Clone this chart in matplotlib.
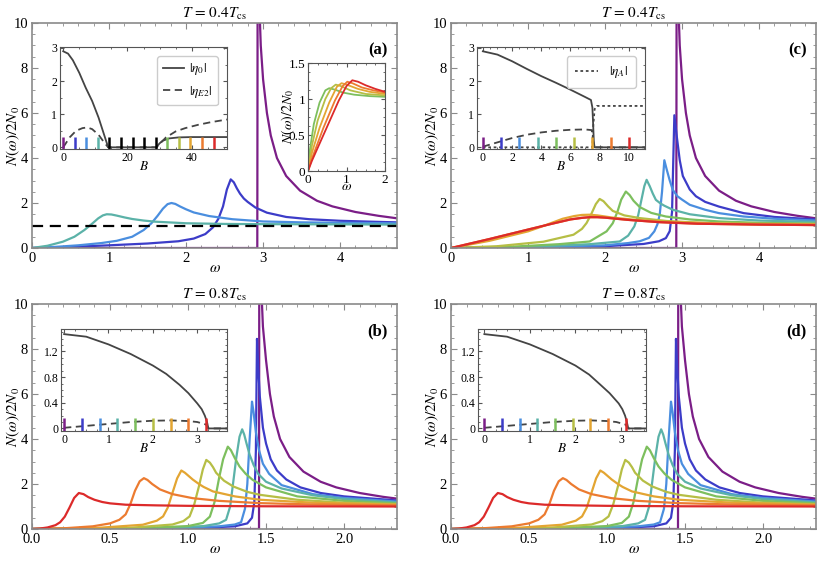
import numpy as np
import matplotlib.pyplot as plt
from matplotlib.ticker import MultipleLocator, FormatStrFormatter

plt.rcParams['font.family'] = ['Liberation Serif', 'DejaVu Serif']
plt.rcParams['mathtext.fontset'] = 'stix'
plt.rcParams['xtick.direction'] = 'in'
plt.rcParams['ytick.direction'] = 'in'
plt.rcParams['xtick.top'] = True
plt.rcParams['ytick.right'] = True

# rainbow colours used for the field values (low B -> high B)
rainbow = ['#7B1E87', '#3C3CC8', '#4A8EDF', '#5BB2A8', '#7DBF5E',
           '#B6BE45', '#E3A532', '#EC7B30', '#DC2A2A']

# ---------------- panel (a): T = 0.4 Tcs, main curves (purple, blue, light blue, teal)
a_omega = [
    [0, 2.925, 2.93, 2.95, 2.97, 3.0, 3.05, 3.1, 3.18, 3.3, 3.48, 3.7, 3.9, 4.2, 4.5, 4.74],
    [0, 0.5, 1.0, 1.5, 1.9, 2.1, 2.25, 2.35, 2.42, 2.48, 2.53, 2.58, 2.62, 2.66, 2.7, 2.75, 2.8, 2.9, 3.05, 3.3, 3.6, 4.0, 4.4, 4.74],
    [0, 0.3, 0.6, 0.9, 1.1, 1.3, 1.45, 1.55, 1.63, 1.7, 1.76, 1.81, 1.86, 1.92, 2.0, 2.1, 2.3, 2.6, 3.0, 3.5, 4.0, 4.74],
    [0, 0.2, 0.4, 0.55, 0.68, 0.78, 0.86, 0.92, 0.97, 1.03, 1.1, 1.2, 1.3, 1.45, 1.6, 2.0, 2.5, 3.0, 4.0, 4.74],
]
a_dos = [
    [0, 0, 14, 11, 9.0, 7.5, 6.0, 5.0, 4.0, 3.2, 2.55, 2.1, 1.85, 1.6, 1.43, 1.32],
    [0, 0.05, 0.12, 0.2, 0.3, 0.42, 0.62, 0.92, 1.3, 1.85, 2.6, 3.05, 2.92, 2.65, 2.42, 2.2, 2.05, 1.8, 1.57, 1.38, 1.28, 1.21, 1.17, 1.14],
    [0, 0.05, 0.12, 0.22, 0.32, 0.5, 0.8, 1.1, 1.43, 1.75, 1.95, 2.0, 1.96, 1.85, 1.72, 1.58, 1.42, 1.28, 1.18, 1.14, 1.12, 1.1],
    [0, 0.1, 0.28, 0.5, 0.8, 1.08, 1.32, 1.45, 1.5, 1.49, 1.44, 1.36, 1.29, 1.22, 1.17, 1.1, 1.07, 1.06, 1.05, 1.04],
]
a_normal = 1.0

# panel (a) right inset: high-field curves (green ... red)
a2_omega = [
    [0, 0.05, 0.15, 0.3, 0.45, 0.55, 0.7, 0.9, 1.2, 1.6, 2.0],
    [0, 0.1, 0.25, 0.45, 0.6, 0.72, 0.85, 1.1, 1.5, 2.0],
    [0, 0.1, 0.3, 0.55, 0.75, 0.87, 1.0, 1.3, 1.6, 2.0],
    [0, 0.1, 0.4, 0.7, 0.9, 1.02, 1.15, 1.4, 1.7, 2.0],
    [0, 0.1, 0.4, 0.8, 1.0, 1.15, 1.3, 1.5, 1.75, 2.0],
]
a2_dos = [
    [0, 0.3, 0.65, 0.95, 1.12, 1.15, 1.13, 1.09, 1.06, 1.04, 1.03],
    [0, 0.35, 0.7, 1.0, 1.15, 1.2, 1.18, 1.12, 1.07, 1.05],
    [0, 0.25, 0.6, 0.95, 1.17, 1.22, 1.2, 1.14, 1.1, 1.07],
    [0, 0.17, 0.6, 0.98, 1.18, 1.24, 1.22, 1.16, 1.12, 1.09],
    [0, 0.14, 0.5, 0.98, 1.18, 1.26, 1.24, 1.19, 1.14, 1.1],
]

# panel (a) left inset: order parameters vs B
a_B0 = [0, 1.5, 3, 5, 7, 9, 11, 12.5, 14.0, 29, 30, 31, 33, 36, 40, 45, 51]
a_eta0 = [2.9, 2.83, 2.63, 2.25, 1.8, 1.4, 0.9, 0.45, 0, 0, 0.12, 0.2, 0.27, 0.3, 0.31, 0.31, 0.31]
a_BE2 = [0, 2, 4, 6, 7.5, 9, 11, 12.5, 14.0, 29, 30, 32, 35, 38, 42, 46, 51]
a_etaE2 = [0, 0.3, 0.5, 0.58, 0.6, 0.55, 0.38, 0.18, 0, 0, 0.1, 0.3, 0.48, 0.58, 0.68, 0.76, 0.84]
a_Bmarks = [0, 3.6, 7.2, 10.8, 14.4, 18, 21.6, 25.2, 28.8, 32.4, 36, 39.6, 43.2, 46.8]
a_markcolors = rainbow[:4] + ['k'] * 5 + rainbow[4:]

# ---------------- panel (c): T = 0.4 Tcs with eta_A
c_omega = [
    a_omega[0],
    [0, 1, 2, 2.5, 2.7, 2.79, 2.84, 2.87, 2.9, 2.93, 2.97, 3.01, 3.1, 3.18, 3.3, 3.48, 3.8, 4.2, 4.74],
    [0, 1, 2, 2.3, 2.45, 2.57, 2.64, 2.68, 2.71, 2.74, 2.77, 2.8, 2.84, 2.88, 2.94, 3.0, 3.1, 3.3, 3.48, 3.8, 4.2, 4.74],
    [0, 1, 1.8, 2.19, 2.3, 2.38, 2.43, 2.47, 2.51, 2.54, 2.58, 2.62, 2.66, 2.72, 2.77, 2.88, 3.1, 3.48, 4.0, 4.74],
    [0, 0.8, 1.4, 1.8, 2.02, 2.1, 2.16, 2.21, 2.27, 2.32, 2.37, 2.45, 2.6, 2.79, 3.1, 3.48, 4.0, 4.74],
    [0, 0.6, 1.2, 1.59, 1.7, 1.76, 1.82, 1.88, 1.93, 1.98, 2.04, 2.1, 2.25, 2.45, 2.8, 3.48, 4.0, 4.74],
    [0, 0.5, 1.0, 1.2, 1.45, 1.6, 1.7, 1.8, 1.9, 2.1, 2.4, 2.8, 3.5, 4.74],
    [0, 0.5, 1.0, 1.3, 1.55, 1.7, 1.8, 1.9, 2.0, 2.3, 2.7, 3.2, 4.0, 4.74],
    [0, 0.5, 1.0, 1.3, 1.55, 1.7, 1.8, 1.9, 2.0, 2.3, 2.7, 3.2, 4.0, 4.74],
]
c_dos = [
    a_dos[0],
    [0, 0.02, 0.08, 0.18, 0.3, 0.44, 0.75, 1.6, 5.9, 5.0, 3.9, 3.2, 2.6, 2.3, 2.05, 1.84, 1.55, 1.38, 1.27],
    [0, 0.03, 0.12, 0.22, 0.3, 0.45, 0.74, 1.05, 1.48, 2.5, 3.9, 3.5, 3.0, 2.58, 2.3, 2.15, 1.92, 1.7, 1.55, 1.4, 1.3, 1.22],
    [0, 0.05, 0.17, 0.29, 0.55, 0.96, 1.45, 2.1, 2.75, 3.03, 2.75, 2.42, 2.14, 1.98, 1.88, 1.7, 1.5, 1.33, 1.22, 1.16],
    [0, 0.06, 0.17, 0.29, 0.74, 1.1, 1.6, 2.15, 2.51, 2.35, 2.1, 1.82, 1.56, 1.4, 1.27, 1.18, 1.12, 1.09],
    [0, 0.08, 0.28, 0.59, 0.85, 1.11, 1.5, 1.95, 2.18, 2.08, 1.85, 1.65, 1.45, 1.33, 1.2, 1.08, 1.06, 1.05],
    [0, 0.32, 0.74, 0.98, 1.3, 1.42, 1.47, 1.48, 1.45, 1.35, 1.25, 1.16, 1.09, 1.05],
    [0, 0.4, 0.82, 1.07, 1.27, 1.34, 1.37, 1.37, 1.35, 1.25, 1.15, 1.08, 1.04, 1.02],
    [0, 0.4, 0.82, 1.07, 1.27, 1.34, 1.37, 1.37, 1.35, 1.25, 1.15, 1.08, 1.04, 1.02],
]
c_B0 = [0, 1, 2, 3, 4, 5, 6, 7, 7.4, 7.5, 7.55, 7.6, 7.65, 11.2]
c_eta0 = [2.9, 2.8, 2.6, 2.37, 2.15, 1.95, 1.74, 1.52, 1.43, 1.2, 0.7, 0.15, 0, 0]
c_BE2 = [0, 1, 2, 3, 4, 5, 6, 7, 7.45, 7.55, 7.65, 11.2]
c_etaE2 = [0.02, 0.15, 0.28, 0.38, 0.45, 0.5, 0.53, 0.54, 0.52, 0.2, 0, 0]
c_BA = [0, 7.5, 7.55, 7.65, 7.8, 11.2]
c_etaA = [0, 0, 0.6, 1.15, 1.25, 1.25]
c_Bmarks = [0, 1.25, 2.5, 3.75, 5, 6.25, 7.5, 8.75, 10]

# ---------------- panels (b), (d): T = 0.8 Tcs
b_omega = [
    [0, 1.455, 1.457, 1.468, 1.48, 1.5, 1.525, 1.55, 1.59, 1.65, 1.74, 1.85, 1.95, 2.1, 2.25, 2.34],
    [0, 1.0, 1.3, 1.38, 1.41, 1.425, 1.435, 1.442, 1.45, 1.46, 1.48, 1.5, 1.53, 1.57, 1.63, 1.72, 1.85, 2.0, 2.34],
    [0, 0.9, 1.2, 1.3, 1.34, 1.365, 1.38, 1.395, 1.41, 1.42, 1.435, 1.455, 1.48, 1.52, 1.6, 1.8, 2.0, 2.34],
    [0, 0.8, 1.1, 1.2, 1.244, 1.27, 1.29, 1.31, 1.33, 1.347, 1.36, 1.375, 1.395, 1.42, 1.45, 1.5, 1.6, 1.8, 2.0, 2.34],
    [0, 0.7, 1.0, 1.095, 1.14, 1.17, 1.2, 1.225, 1.255, 1.275, 1.3, 1.33, 1.37, 1.415, 1.5, 1.7, 2.0, 2.34],
    [0, 0.6, 0.9, 0.97, 1.01, 1.04, 1.07, 1.095, 1.117, 1.14, 1.16, 1.18, 1.23, 1.29, 1.38, 1.46, 1.7, 2.0, 2.34],
    [0, 0.4, 0.71, 0.8, 0.84, 0.87, 0.9, 0.93, 0.957, 0.98, 1.0, 1.03, 1.07, 1.1, 1.16, 1.3, 1.46, 1.8, 2.34],
    [0, 0.2, 0.39, 0.5, 0.56, 0.6, 0.63, 0.66, 0.69, 0.717, 0.74, 0.77, 0.82, 0.9, 1.03, 1.2, 1.46, 1.8, 2.34],
    [0, 0.05, 0.1, 0.15, 0.18, 0.21, 0.24, 0.27, 0.3, 0.33, 0.36, 0.4, 0.45, 0.5, 0.6, 0.8, 1.0, 1.5, 2.34],
]
b_dos = [
    [0, 0, 14, 11, 9.0, 7.5, 6.0, 5.0, 4.0, 3.2, 2.55, 2.1, 1.85, 1.6, 1.43, 1.35],
    [0, 0.03, 0.12, 0.25, 0.5, 1.2, 3.5, 8.45, 7.2, 5.9, 4.5, 3.8, 3.1, 2.6, 2.2, 1.85, 1.6, 1.45, 1.27],
    [0, 0.04, 0.12, 0.2, 0.3, 0.9, 2.0, 4.0, 5.66, 5.2, 4.3, 3.5, 2.9, 2.45, 1.95, 1.55, 1.38, 1.22],
    [0, 0.04, 0.13, 0.25, 0.41, 1.0, 2.1, 3.2, 4.1, 4.43, 4.2, 3.8, 3.3, 2.85, 2.45, 2.1, 1.8, 1.5, 1.33, 1.18],
    [0, 0.04, 0.13, 0.27, 0.55, 1.2, 2.3, 3.1, 3.66, 3.5, 3.15, 2.78, 2.45, 2.18, 1.85, 1.45, 1.25, 1.14],
    [0, 0.04, 0.2, 0.35, 0.56, 1.1, 1.9, 2.65, 3.07, 2.95, 2.75, 2.5, 2.15, 1.89, 1.65, 1.52, 1.3, 1.17, 1.1],
    [0, 0.04, 0.19, 0.37, 0.56, 0.95, 1.6, 2.25, 2.6, 2.5, 2.38, 2.2, 2.0, 1.87, 1.67, 1.45, 1.3, 1.17, 1.08],
    [0, 0.03, 0.12, 0.25, 0.41, 0.65, 1.1, 1.7, 2.12, 2.26, 2.18, 2.0, 1.76, 1.55, 1.37, 1.25, 1.15, 1.09, 1.05],
    [0, 0.02, 0.07, 0.17, 0.3, 0.55, 0.95, 1.38, 1.6, 1.55, 1.42, 1.3, 1.2, 1.14, 1.08, 1.05, 1.03, 1.01, 1.0],
]
b_B0 = [0, 0.5, 1.0, 1.5, 2.0, 2.3, 2.6, 2.8, 3.0, 3.1, 3.17, 3.22, 3.25, 3.7]
b_eta0 = [1.47, 1.43, 1.31, 1.16, 0.98, 0.85, 0.68, 0.55, 0.39, 0.3, 0.2, 0.1, 0, 0]
b_BE2 = [0, 0.5, 1.0, 1.5, 2.0, 2.4, 2.8, 3.0, 3.2, 3.25, 3.7]
b_etaE2 = [0.01, 0.04, 0.07, 0.1, 0.12, 0.125, 0.115, 0.1, 0.06, 0, 0]
b_Bmarks = [0, 0.4, 0.8, 1.2, 1.6, 2.0, 2.4, 2.8, 3.2]

d_B0 = [0, 0.5, 1.0, 1.5, 2.0, 2.3, 2.55, 2.75, 2.95, 3.03, 3.09, 3.13, 3.16, 3.6]
d_eta0 = [1.47, 1.43, 1.31, 1.16, 0.98, 0.84, 0.68, 0.55, 0.39, 0.3, 0.2, 0.1, 0, 0]
d_BE2 = [0, 0.5, 1.0, 1.5, 2.0, 2.35, 2.7, 2.9, 3.1, 3.16, 3.6]
d_etaE2 = [0.01, 0.04, 0.07, 0.1, 0.12, 0.125, 0.115, 0.1, 0.06, 0, 0]
d_Bmarks = [0, 0.39, 0.78, 1.16, 1.55, 1.94, 2.33, 2.71, 3.1]

FRAME = '#8a8a8a'
IFRAME = '#555555'
GRAY = '#444444'


def style_main(ax, xmax, xmaj, xmin_step, label):
    ax.set_xlim(0, xmax)
    ax.set_ylim(0, 10)
    ax.xaxis.set_major_locator(MultipleLocator(xmaj))
    ax.xaxis.set_minor_locator(MultipleLocator(xmin_step))
    ax.yaxis.set_major_locator(MultipleLocator(2))
    ax.yaxis.set_minor_locator(MultipleLocator(0.5))
    for s in ax.spines.values():
        s.set_color(FRAME)
        s.set_linewidth(1.2)
    ax.tick_params(which='both', color=FRAME, labelsize=10.5, pad=3)
    ax.tick_params(which='major', length=4)
    ax.tick_params(which='minor', length=2)
    ax.set_xlabel(r'$\omega$', fontsize=11, labelpad=-2)
    ax.set_ylabel(r'$N(\omega)/2N_0$', fontsize=11)
    ax.yaxis.set_label_coords(-0.028, 0.5)
    ax.text(0.975, 0.88, label, transform=ax.transAxes, ha='right', va='center',
            fontsize=12, fontweight='bold')


def style_inset(ax):
    for s in ax.spines.values():
        s.set_color(IFRAME)
        s.set_linewidth(0.8)
    ax.tick_params(which='both', color=IFRAME, labelsize=8.5, pad=2)
    ax.tick_params(which='major', length=3)
    ax.tick_params(which='minor', length=1.5)


def marks(ax, Bs, cols, top, bottom):
    for B, col in zip(Bs, cols):
        ax.plot([B, B], [bottom, top], color=col, lw=1.8, solid_capstyle='butt')


fig = plt.figure(figsize=(8.3, 5.62), dpi=100)

L, W = 0.0386, 0.4398
L2 = 0.5434
H = 0.4004
ax_a = fig.add_axes([L, 0.5587, W, H])
ax_c = fig.add_axes([L2, 0.5587, W, H])
ax_b = fig.add_axes([L, 0.0587, W, H])
ax_d = fig.add_axes([L2, 0.0587, W, H])

# ----- (a)
for w, n, col in zip(a_omega, a_dos, rainbow[:4]):
    ax_a.plot(w, n, color=col, lw=1.6)
ax_a.axhline(a_normal, color='k', lw=1.6, dashes=(5, 3))
style_main(ax_a, 4.74, 1, 0.2, '(a)')
ax_a.set_title(r'$T\, =\, 0.4T_{\rm cs}$', fontsize=11, pad=4)

ia = fig.add_axes([0.0723, 0.7349, 0.2012, 0.1815])
ia.plot(a_B0, a_eta0, color=GRAY, lw=1.3, label=r'$|\eta_0|$')
ia.plot(a_BE2, a_etaE2, color=GRAY, lw=1.3, dashes=(4, 2.5), label=r'$|\eta_{E2}|$')
marks(ia, a_Bmarks, a_markcolors, 0.32, -0.05)
ia.set_xlim(-1, 51)
ia.set_ylim(-0.05, 3.03)
ia.xaxis.set_major_locator(MultipleLocator(20))
ia.xaxis.set_minor_locator(MultipleLocator(5))
ia.yaxis.set_major_locator(MultipleLocator(1))
ia.yaxis.set_minor_locator(MultipleLocator(0.5))
style_inset(ia)
ia.set_xlabel(r'$B$', fontsize=9.5, labelpad=-3)
ia.legend(loc='upper right', fontsize=9.5, handlelength=1.6, borderaxespad=0.7,
          fancybox=True, framealpha=1, edgecolor='#cccccc', labelspacing=0.5,
          handletextpad=0.4)

ia2 = fig.add_axes([0.3711, 0.6957, 0.0928, 0.1922])
for w, n, col in zip(a2_omega, a2_dos, rainbow[4:]):
    ia2.plot(w, n, color=col, lw=1.3)
ia2.set_xlim(0, 2)
ia2.set_ylim(0, 1.5)
ia2.xaxis.set_major_locator(MultipleLocator(1))
ia2.xaxis.set_minor_locator(MultipleLocator(0.25))
ia2.yaxis.set_major_locator(MultipleLocator(0.5))
ia2.yaxis.set_minor_locator(MultipleLocator(0.125))
ia2.yaxis.set_major_formatter(FormatStrFormatter('%g'))
style_inset(ia2)
ia2.tick_params(labelsize=9.5)
ia2.set_xlabel(r'$\omega$', fontsize=10, labelpad=-4)
ia2.set_ylabel(r'$N(\omega)/2N_0$', fontsize=10, labelpad=-6)

# ----- (c)
for w, n, col in zip(c_omega, c_dos, rainbow):
    ax_c.plot(w, n, color=col, lw=1.6)
style_main(ax_c, 4.74, 1, 0.2, '(c)')
ax_c.set_title(r'$T\, =\, 0.4T_{\rm cs}$', fontsize=11, pad=4)

ic = fig.add_axes([0.5747, 0.7349, 0.2024, 0.1815])
ic.plot(c_B0, c_eta0, color=GRAY, lw=1.3)
ic.plot(c_BE2, c_etaE2, color=GRAY, lw=1.3, dashes=(4, 2.5))
ic.plot(c_BA, c_etaA, color=GRAY, lw=1.3, dashes=(1.5, 1.5), label=r'$|\eta_A|$')
marks(ic, c_Bmarks, rainbow, 0.32, -0.05)
ic.set_xlim(-0.4, 11.1)
ic.set_ylim(-0.05, 3.03)
ic.xaxis.set_major_locator(MultipleLocator(2))
ic.xaxis.set_minor_locator(MultipleLocator(0.5))
ic.yaxis.set_major_locator(MultipleLocator(1))
ic.yaxis.set_minor_locator(MultipleLocator(0.5))
style_inset(ic)
ic.set_xlabel(r'$B$', fontsize=9.5, labelpad=-3)
ic.legend(loc='upper right', fontsize=9.5, handlelength=1.8, borderaxespad=0.7,
          fancybox=True, framealpha=1, edgecolor='#cccccc', borderpad=0.6)

# ----- (b) and (d)
for ax, lab in [(ax_b, '(b)'), (ax_d, '(d)')]:
    for w, n, col in zip(b_omega, b_dos, rainbow):
        ax.plot(w, n, color=col, lw=1.6)
    style_main(ax, 2.34, 0.5, 0.1, lab)
    ax.xaxis.set_major_formatter(FormatStrFormatter('%.1f'))
    ax.set_title(r'$T\, =\, 0.8T_{\rm cs}$', fontsize=11, pad=4)

for pos, Bs, e0, BE, eE, Bm, xl in [
        ([0.0735, 0.2331, 0.2, 0.1815], b_B0, b_eta0, b_BE2, b_etaE2, b_Bmarks, (-0.07, 3.67)),
        ([0.5759, 0.2331, 0.2024, 0.1815], d_B0, d_eta0, d_BE2, d_etaE2, d_Bmarks, (-0.14, 3.55))]:
    ib = fig.add_axes(pos)
    ib.plot(Bs, e0, color=GRAY, lw=1.3)
    ib.plot(BE, eE, color=GRAY, lw=1.3, dashes=(4, 2.5))
    marks(ib, Bm, rainbow, 0.17, -0.04)
    ib.set_xlim(*xl)
    ib.set_ylim(-0.04, 1.55)
    ib.xaxis.set_major_locator(MultipleLocator(1))
    ib.xaxis.set_minor_locator(MultipleLocator(0.25))
    ib.yaxis.set_major_locator(MultipleLocator(0.4))
    ib.yaxis.set_minor_locator(MultipleLocator(0.1))
    ib.yaxis.set_major_formatter(FormatStrFormatter('%g'))
    style_inset(ib)
    ib.set_xlabel(r'$B$', fontsize=9.5, labelpad=-3)

fig.savefig('out.png', dpi=100)
